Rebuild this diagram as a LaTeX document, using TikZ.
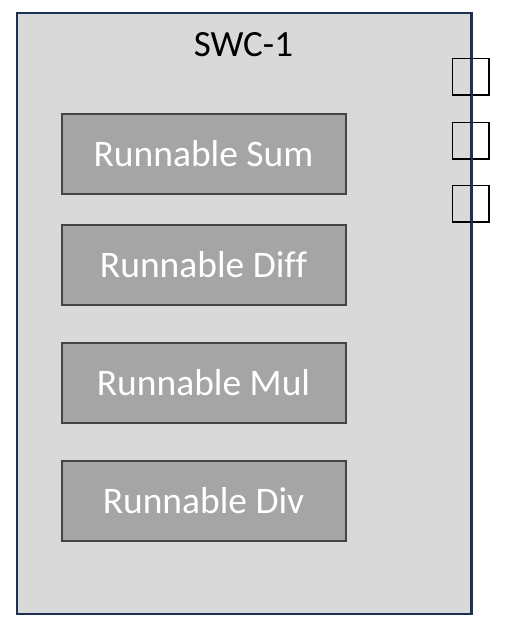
\documentclass[tikz,border=0pt]{standalone}
\usepackage{fontspec}
\setmainfont{Carlito}[Ligatures=NoCommon]
\definecolor{outerfill}{HTML}{D9D9D9}
\definecolor{outerline}{HTML}{1F3153}
\definecolor{runfill}{HTML}{A5A5A5}
\definecolor{runline}{HTML}{444444}
\tikzset{
  swcbox/.style={draw=outerline, line width=2pt, fill=outerfill, minimum width=454pt, minimum height=601pt, inner sep=0pt},
  runbox/.style={draw=runline, line width=2pt, fill=runfill, minimum width=284pt, minimum height=80pt, inner sep=0pt, text=white, font=\fontsize{37.5}{42}\selectfont},
  portbox/.style={draw=black, line width=1.6pt, minimum width=36.5pt, minimum height=36.5pt, inner sep=0pt},
  titletext/.style={font=\fontsize{37}{42}\selectfont, text=black, inner sep=0pt}
}
\begin{document}
\begin{tikzpicture}[x=1pt,y=-1pt]
\useasboundingbox (0,0) rectangle (509,634);
\node[swcbox] (swc) at (244,313.7) {};
\node[titletext] (title) at (243.5,45) {SWC-1};
\node[runbox] (sum) at (203.5,153.7) {Runnable Sum};
\node[runbox] (diff) at (203.5,264.8) {Runnable Diff};
\node[runbox] (mul) at (203.5,382.7) {Runnable Mul};
\node[runbox] (div) at (203.5,500.7) {Runnable Div};
\node[portbox] (p1) at (470.8,76.6) {};
\node[portbox] (p2) at (470.8,140.6) {};
\node[portbox] (p3) at (470.8,203.8) {};
\draw[outerline, line width=2pt] (swc.north east) -- (swc.south east);
\end{tikzpicture}
\end{document}
